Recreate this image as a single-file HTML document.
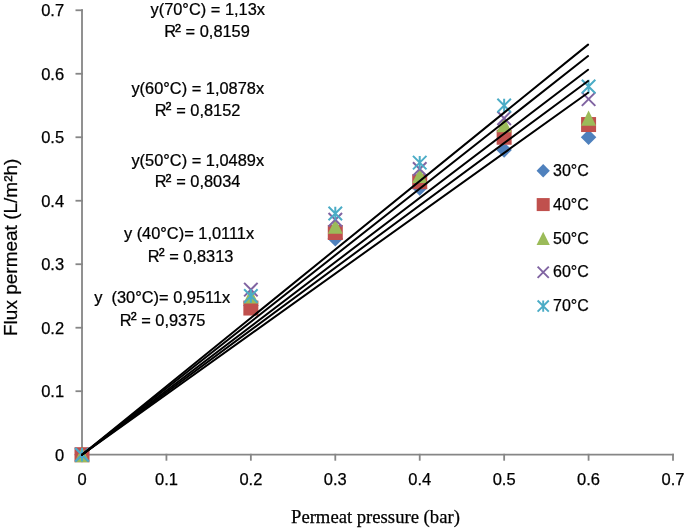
<!DOCTYPE html>
<html><head><meta charset="utf-8"><style>
html,body{margin:0;padding:0;background:#fff;overflow:hidden;}
svg{display:block;will-change:transform;}
text{stroke:#000;stroke-width:0.25px;}
</style></head><body>
<svg width="685" height="529" viewBox="0 0 685 529">
<rect width="685" height="529" fill="#fff"/>
<g stroke="#868686" stroke-width="1.8" stroke-linecap="square" fill="none">
<path d="M82.0 10.27V454.7H673.01"/>
<path d="M76.4 391.21H82.0"/>
<path d="M76.4 327.72H82.0"/>
<path d="M76.4 264.23H82.0"/>
<path d="M76.4 200.74H82.0"/>
<path d="M76.4 137.25H82.0"/>
<path d="M76.4 73.76H82.0"/>
<path d="M76.4 10.27H82.0"/>
<path d="M166.43 454.7V459.8"/>
<path d="M250.86 454.7V459.8"/>
<path d="M335.29 454.7V459.8"/>
<path d="M419.72 454.7V459.8"/>
<path d="M504.15 454.7V459.8"/>
<path d="M588.58 454.7V459.8"/>
<path d="M673.01 454.7V459.8"/>
</g>
<path d="M82.00 446.95L89.75 454.70L82.00 462.45L74.25 454.70Z" fill="#4F81BD"/>
<path d="M250.86 297.75L258.61 305.50L250.86 313.25L243.11 305.50Z" fill="#4F81BD"/>
<path d="M335.29 231.08L343.04 238.83L335.29 246.58L327.54 238.83Z" fill="#4F81BD"/>
<path d="M419.72 180.29L427.47 188.04L419.72 195.79L411.97 188.04Z" fill="#4F81BD"/>
<path d="M504.15 142.20L511.90 149.95L504.15 157.70L496.40 149.95Z" fill="#4F81BD"/>
<path d="M588.58 129.50L596.33 137.25L588.58 145.00L580.83 137.25Z" fill="#4F81BD"/>
<rect x="74.50" y="447.20" width="15" height="15" fill="#C0504D"/>
<rect x="243.36" y="300.54" width="15" height="15" fill="#C0504D"/>
<rect x="327.79" y="224.99" width="15" height="15" fill="#C0504D"/>
<rect x="412.22" y="174.19" width="15" height="15" fill="#C0504D"/>
<rect x="496.65" y="129.75" width="15" height="15" fill="#C0504D"/>
<rect x="581.08" y="117.05" width="15" height="15" fill="#C0504D"/>
<path d="M82.00 447.05L89.50 462.35L74.50 462.35Z" fill="#9BBB59"/>
<path d="M250.86 288.33L258.36 303.62L243.36 303.62Z" fill="#9BBB59"/>
<path d="M335.29 218.49L342.79 233.79L327.79 233.79Z" fill="#9BBB59"/>
<path d="M419.72 167.69L427.22 182.99L412.22 182.99Z" fill="#9BBB59"/>
<path d="M504.15 116.90L511.65 132.20L496.65 132.20Z" fill="#9BBB59"/>
<path d="M588.58 110.55L596.08 125.85L581.08 125.85Z" fill="#9BBB59"/>
<path d="M75.25 447.95L88.75 461.45M88.75 447.95L75.25 461.45" stroke="#8064A2" stroke-width="2.0" fill="none"/>
<path d="M244.11 282.88L257.61 296.38M257.61 282.88L244.11 296.38" stroke="#8064A2" stroke-width="2.0" fill="none"/>
<path d="M328.54 213.04L342.04 226.54M342.04 213.04L328.54 226.54" stroke="#8064A2" stroke-width="2.0" fill="none"/>
<path d="M412.97 162.25L426.47 175.75M426.47 162.25L412.97 175.75" stroke="#8064A2" stroke-width="2.0" fill="none"/>
<path d="M497.40 111.45L510.90 124.95M510.90 111.45L497.40 124.95" stroke="#8064A2" stroke-width="2.0" fill="none"/>
<path d="M581.83 92.41L595.33 105.91M595.33 92.41L581.83 105.91" stroke="#8064A2" stroke-width="2.0" fill="none"/>
<path d="M75.25 447.95L88.75 461.45M88.75 447.95L75.25 461.45M82.00 447.95L82.00 461.45" stroke="#4BACC6" stroke-width="2.0" fill="none"/>
<path d="M244.11 289.23L257.61 302.73M257.61 289.23L244.11 302.73M250.86 289.23L250.86 302.73" stroke="#4BACC6" stroke-width="2.0" fill="none"/>
<path d="M328.54 206.69L342.04 220.19M342.04 206.69L328.54 220.19M335.29 206.69L335.29 220.19" stroke="#4BACC6" stroke-width="2.0" fill="none"/>
<path d="M412.97 155.90L426.47 169.40M426.47 155.90L412.97 169.40M419.72 155.90L419.72 169.40" stroke="#4BACC6" stroke-width="2.0" fill="none"/>
<path d="M497.40 98.75L510.90 112.25M510.90 98.75L497.40 112.25M504.15 98.75L504.15 112.25" stroke="#4BACC6" stroke-width="2.0" fill="none"/>
<path d="M581.83 79.71L595.33 93.21M595.33 79.71L581.83 93.21M588.58 79.71L588.58 93.21" stroke="#4BACC6" stroke-width="2.0" fill="none"/>
<g stroke="#000" stroke-width="2.0" stroke-linecap="round" fill="none">
<path d="M82.0 454.8L588.08 44.6"/>
<path d="M82.0 454.8L588.08 56.0"/>
<path d="M82.0 454.8L588.08 69.8"/>
<path d="M82.0 454.8L588.08 81.0"/>
<path d="M82.0 454.8L588.08 92.8"/>
</g>
<g font-family="Liberation Sans, sans-serif" font-size="16.5" fill="#000" text-anchor="end">
<text x="64.1" y="460.60">0</text>
<text x="64.1" y="397.11">0.1</text>
<text x="64.1" y="333.62">0.2</text>
<text x="64.1" y="270.13">0.3</text>
<text x="64.1" y="206.64">0.4</text>
<text x="64.1" y="143.15">0.5</text>
<text x="64.1" y="79.66">0.6</text>
<text x="64.1" y="16.17">0.7</text>
</g>
<g font-family="Liberation Sans, sans-serif" font-size="16.5" fill="#000" text-anchor="middle">
<text x="82.00" y="485">0</text>
<text x="166.43" y="485">0.1</text>
<text x="250.86" y="485">0.2</text>
<text x="335.29" y="485">0.3</text>
<text x="419.72" y="485">0.4</text>
<text x="504.15" y="485">0.5</text>
<text x="588.58" y="485">0.6</text>
<text x="673.01" y="485">0.7</text>
</g>
<g font-family="Liberation Sans, sans-serif" fill="#000" style="white-space:pre">
<text transform="translate(0 15.2) scale(1 0.97) translate(0 -15.2)" x="150.5" y="15.2" font-size="16.4" letter-spacing="0">y(70°C) = 1,13x</text>
<text transform="translate(0 37.5) scale(1 0.97) translate(0 -37.5)" x="164.2" y="37.5" font-size="16.4" letter-spacing="0">R<tspan font-size="10.8" dx="-1.0" dy="-5.6" style="stroke-width:0.55px">2</tspan><tspan dy="5.6"> = 0,8159</tspan></text>
<text transform="translate(0 94.1) scale(1 0.97) translate(0 -94.1)" x="131.4" y="94.1" font-size="16.4" letter-spacing="0">y(60°C) = 1,0878x</text>
<text transform="translate(0 115.6) scale(1 0.97) translate(0 -115.6)" x="154.8" y="115.6" font-size="16.4" letter-spacing="0">R<tspan font-size="10.8" dx="-1.0" dy="-5.6" style="stroke-width:0.55px">2</tspan><tspan dy="5.6"> = 0,8152</tspan></text>
<text transform="translate(0 165.6) scale(1 0.97) translate(0 -165.6)" x="131.4" y="165.6" font-size="16.4" letter-spacing="0">y(50°C) = 1,0489x</text>
<text transform="translate(0 187.5) scale(1 0.97) translate(0 -187.5)" x="154.8" y="187.5" font-size="16.4" letter-spacing="0">R<tspan font-size="10.8" dx="-1.0" dy="-5.6" style="stroke-width:0.55px">2</tspan><tspan dy="5.6"> = 0,8034</tspan></text>
<text transform="translate(0 238.8) scale(1 0.97) translate(0 -238.8)" x="123.9" y="238.8" font-size="16.4" letter-spacing="0">y (40°C)= 1,0111x</text>
<text transform="translate(0 261.9) scale(1 0.97) translate(0 -261.9)" x="147.8" y="261.9" font-size="16.4" letter-spacing="0">R<tspan font-size="10.8" dx="-1.0" dy="-5.6" style="stroke-width:0.55px">2</tspan><tspan dy="5.6"> = 0,8313</tspan></text>
<text transform="translate(0 303.0) scale(1 0.97) translate(0 -303.0)" x="94.2" y="303.0" font-size="16.4" letter-spacing="0">y  (30°C)= 0,9511x</text>
<text transform="translate(0 325.9) scale(1 0.97) translate(0 -325.9)" x="119.8" y="325.9" font-size="16.4" letter-spacing="0">R<tspan font-size="10.8" dx="-1.0" dy="-5.6" style="stroke-width:0.55px">2</tspan><tspan dy="5.6"> = 0,9375</tspan></text>
</g>
<path d="M543.20 164.10L549.85 170.75L543.20 177.40L536.55 170.75Z" fill="#4F81BD"/>
<text x="553" y="176.20" font-family="Liberation Sans, sans-serif" font-size="16">30°C</text>
<rect x="536.70" y="198.08" width="13" height="13" fill="#C0504D"/>
<text x="553" y="209.90" font-family="Liberation Sans, sans-serif" font-size="16">40°C</text>
<path d="M543.20 231.76L549.85 245.06L536.55 245.06Z" fill="#9BBB59"/>
<text x="553" y="243.60" font-family="Liberation Sans, sans-serif" font-size="16">50°C</text>
<path d="M537.60 266.64L548.80 277.84M548.80 266.64L537.60 277.84" stroke="#8064A2" stroke-width="1.9" fill="none"/>
<text x="553" y="277.30" font-family="Liberation Sans, sans-serif" font-size="16">60°C</text>
<path d="M537.60 300.47L548.80 311.67M548.80 300.47L537.60 311.67M543.20 300.47L543.20 311.67" stroke="#4BACC6" stroke-width="1.9" fill="none"/>
<text x="553" y="311.00" font-family="Liberation Sans, sans-serif" font-size="16">70°C</text>
<text transform="translate(17.2 336) rotate(-90)" font-family="Liberation Sans, sans-serif" font-size="19">Flux permeat (L/m²h)</text>
<text x="291" y="522.9" font-family="Liberation Serif, serif" font-size="18.67">Permeat pressure (bar)</text>
</svg>
</body></html>
